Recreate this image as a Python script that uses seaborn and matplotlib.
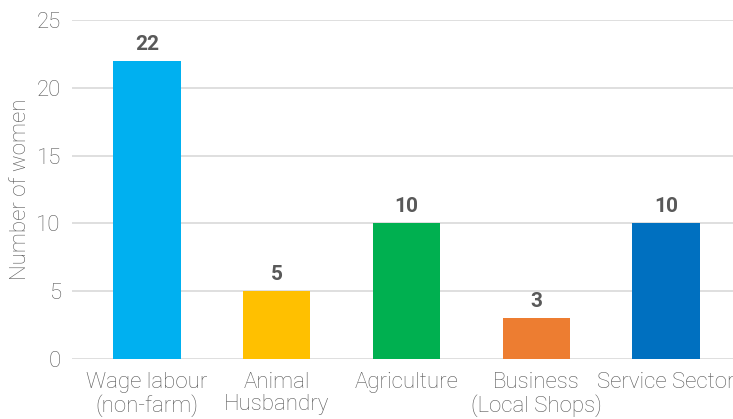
import matplotlib
matplotlib.use("Agg")
import matplotlib.pyplot as plt
import seaborn as sns
import pandas as pd

categories = ["Wage labour\n(non-farm)", "Animal\nHusbandry", "Agriculture",
              "Business\n(Local Shops)", "Service Sector"]
values = [22, 5, 10, 3, 10]
colors = ["#00B0F0", "#FFC000", "#00B050", "#ED7D31", "#0070C0"]
yticks = [0, 5, 10, 15, 20, 25]

sns.set_theme(style="white")
plt.rcParams["font.family"] = ["Roboto", "DejaVu Sans"]

df = pd.DataFrame({"cat": categories, "val": values})

fig = plt.figure(figsize=(7.33, 4.19), dpi=100)
ax = fig.add_axes([72/733, 60/419, (741-72)/733, 339/419])
sns.barplot(data=df, x="cat", y="val", hue="cat", palette=colors, legend=False,
            width=0.52, ax=ax, saturation=1, linewidth=0)
ax.set_ylim(0, 25)
ax.set_xlim(-0.577, 4.577)
ax.set_yticks(yticks)
ax.yaxis.grid(True, color="#d9d9d9", linewidth=1.2)
ax.set_axisbelow(True)
for s in ax.spines.values():
    s.set_visible(False)
ax.tick_params(axis="both", length=0, labelsize=16, labelcolor="#595959")
ax.tick_params(axis="y", pad=8)
ax.tick_params(axis="x", pad=9)
for lab in ax.get_xticklabels() + ax.get_yticklabels():
    lab.set_fontweight("light")
for lab in ax.get_xticklabels():
    lab.set_linespacing(1.12)
ax.set_xlabel("")
ax.set_ylabel("Number of women", fontsize=16, color="#595959", fontweight="light", labelpad=4)
for p in ax.patches:
    h = p.get_height()
    if h is None or h != h:
        continue
    ax.annotate(f"{int(round(h))}", (p.get_x() + p.get_width() / 2, h),
                xytext=(0, 5), textcoords="offset points", ha="center", va="bottom",
                fontsize=15, fontweight="bold", color="#595959")
fig.savefig("out.png", dpi=100)
